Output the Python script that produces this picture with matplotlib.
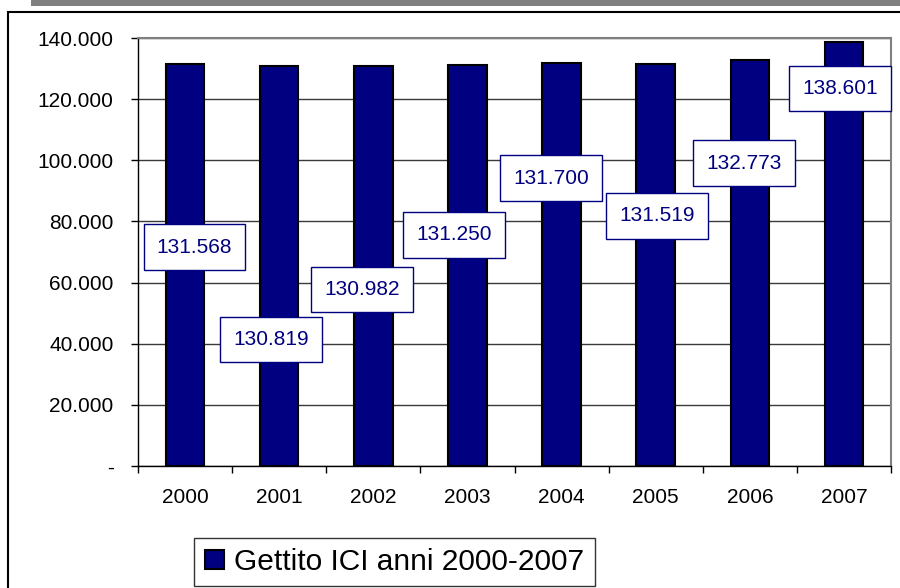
import matplotlib.pyplot as plt
from matplotlib.patches import Rectangle
from matplotlib.ticker import FuncFormatter, FixedLocator
import numpy as np

plt.rcParams['font.family'] = ['Liberation Sans', 'DejaVu Sans']

years = ['2000', '2001', '2002', '2003', '2004', '2005', '2006', '2007']
gettito = [131568, 130819, 130982, 131250, 131700, 131519, 132773, 138601]
series_label = 'Gettito ICI anni 2000-2007'

# where the data label boxes sit (x shift in category units, y in data units)
label_dx = [0.10, -0.09, -0.12, -0.14, -0.11, 0.01, -0.06, -0.04]
label_y = [71600, 41500, 57700, 75600, 94200, 81800, 99100, 123600]

navy = '#000080'

fig = plt.figure(figsize=(9, 5.88), dpi=100)
ax = fig.add_axes([138 / 900, 1 - 466 / 588, (891 - 138) / 900, (466 - 38) / 588])

x = np.arange(len(years))
ax.bar(x, gettito, width=0.41, color=navy, edgecolor='black', linewidth=1.5,
       label=series_label, zorder=2)

for i, v in enumerate(gettito):
    txt = f"{v:,}".replace(',', '.')
    ax.text(x[i] + label_dx[i], label_y[i], txt, ha='center', va='center',
            fontsize=15, color=navy, zorder=5,
            bbox=dict(boxstyle='square,pad=0.63', facecolor='white',
                      edgecolor=navy, linewidth=1))

ax.set_xlim(-0.5, len(years) - 0.5)
ax.set_ylim(0, 140000)
ax.set_yticks(np.arange(0, 140001, 20000))
ax.yaxis.set_major_formatter(FuncFormatter(
    lambda v, p: '-' if v == 0 else f"{v:,.0f}".replace(',', '.')))
ax.set_xticks(x)
ax.set_xticklabels(years)
ax.xaxis.set_minor_locator(FixedLocator(np.arange(-0.5, len(years), 1.0)))
ax.tick_params(axis='x', which='major', length=0, pad=15.5, labelsize=15)
ax.tick_params(axis='x', which='minor', length=5, width=1, direction='out')
ax.tick_params(axis='y', length=5, width=1, direction='out', pad=12.5, labelsize=15)

ax.set_axisbelow(True)
ax.yaxis.grid(True, color='#3a3a3a', linewidth=1)
for s in ['top', 'right']:
    ax.spines[s].set_color('#808080')
    ax.spines[s].set_linewidth(1.5)
for s in ['left', 'bottom']:
    ax.spines[s].set_color('black')
    ax.spines[s].set_linewidth(1)

# outer chart frame and grey strip on top
fig.patches.append(Rectangle((8 / 900, -0.05), 1.1, 1 - 12 / 588 + 0.05,
                             transform=fig.transFigure, fill=False,
                             edgecolor='black', linewidth=1.5))
fig.patches.append(Rectangle((31 / 900, 1 - 6 / 588), 1.0, 0.02,
                             transform=fig.transFigure, facecolor='#808080',
                             edgecolor='none'))

leg = fig.legend(loc='center', bbox_to_anchor=(394.5 / 900, 1 - 562 / 588),
                 fontsize=21.5, frameon=True, fancybox=False, shadow=False,
                 handlelength=0.65, handleheight=0.65, handletextpad=0.35,
                 borderpad=0.35, borderaxespad=0)
leg.get_frame().set_edgecolor('black')
leg.get_frame().set_linewidth(1)

fig.savefig('out.png', dpi=100)
